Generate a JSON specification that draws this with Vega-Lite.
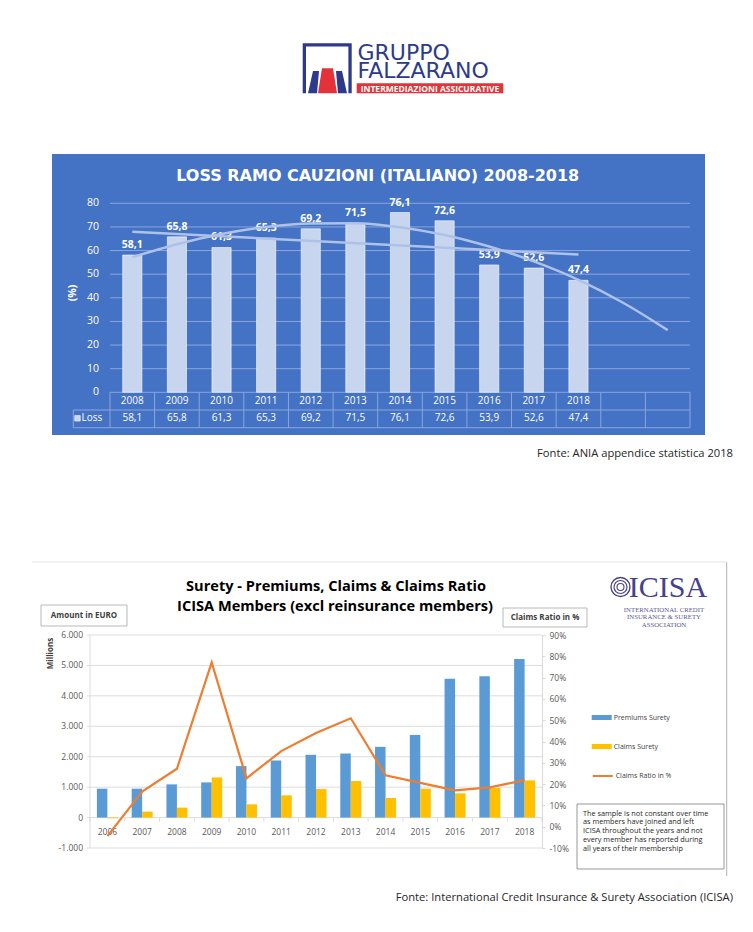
{
  "$schema": "https://vega.github.io/schema/vega-lite/v6.json",
  "background": "white",
  "padding": {"left": 31, "top": 0, "right": 0, "bottom": 0},
  "bounds": "flush",
  "spacing": 0,
  "config": {
    "view": {"stroke": null},
    "font": "Open Sans",
    "locale": {"number": {"decimal": ",", "thousands": ".", "grouping": [3], "currency": ["€", ""], "minus": "-"}}
  },
  "datasets": {
    "loss": [
      {"year": "2008", "loss": 58.1}, {"year": "2009", "loss": 65.8}, {"year": "2010", "loss": 61.3},
      {"year": "2011", "loss": 65.3}, {"year": "2012", "loss": 69.2}, {"year": "2013", "loss": 71.5},
      {"year": "2014", "loss": 76.1}, {"year": "2015", "loss": 72.6}, {"year": "2016", "loss": 53.9},
      {"year": "2017", "loss": 52.6}, {"year": "2018", "loss": 47.4}, {"year": "2019", "loss": null},
      {"year": "2020", "loss": null}
    ],
    "lossLinear": [{"year": "2008", "trend": 68.0}, {"year": "2018", "trend": 58.3}],
    "lossPoly": [
      {"year": "2008", "trend": 57.2}, {"year": "2009", "trend": 62.7}, {"year": "2010", "trend": 67.0},
      {"year": "2011", "trend": 70.0}, {"year": "2012", "trend": 71.5}, {"year": "2013", "trend": 71.6},
      {"year": "2014", "trend": 69.9}, {"year": "2015", "trend": 66.6}, {"year": "2016", "trend": 61.7},
      {"year": "2017", "trend": 55.4}, {"year": "2018", "trend": 47.6}, {"year": "2019", "trend": 37.9},
      {"year": "2020", "trend": 26.3}
    ],
    "lossGrid": [{"level": 0}, {"level": 10}, {"level": 20}, {"level": 30}, {"level": 40}, {"level": 50}, {"level": 60}, {"level": 70}, {"level": 80}],
    "suretyGrid": [{"level": -1000}, {"level": 0}, {"level": 1000}, {"level": 2000}, {"level": 3000}, {"level": 4000}, {"level": 5000}, {"level": 6000}],
    "suretyBars": [
      {"year": "2006", "series": "Premiums Surety", "amount": 949}, {"year": "2006", "series": "Claims Surety", "amount": -25},
      {"year": "2007", "series": "Premiums Surety", "amount": 949}, {"year": "2007", "series": "Claims Surety", "amount": 196},
      {"year": "2008", "series": "Premiums Surety", "amount": 1091}, {"year": "2008", "series": "Claims Surety", "amount": 327},
      {"year": "2009", "series": "Premiums Surety", "amount": 1156}, {"year": "2009", "series": "Claims Surety", "amount": 1320},
      {"year": "2010", "series": "Premiums Surety", "amount": 1691}, {"year": "2010", "series": "Claims Surety", "amount": 436},
      {"year": "2011", "series": "Premiums Surety", "amount": 1876}, {"year": "2011", "series": "Claims Surety", "amount": 731},
      {"year": "2012", "series": "Premiums Surety", "amount": 2062}, {"year": "2012", "series": "Claims Surety", "amount": 938},
      {"year": "2013", "series": "Premiums Surety", "amount": 2105}, {"year": "2013", "series": "Claims Surety", "amount": 1200},
      {"year": "2014", "series": "Premiums Surety", "amount": 2324}, {"year": "2014", "series": "Claims Surety", "amount": 644},
      {"year": "2015", "series": "Premiums Surety", "amount": 2716}, {"year": "2015", "series": "Claims Surety", "amount": 949},
      {"year": "2016", "series": "Premiums Surety", "amount": 4560}, {"year": "2016", "series": "Claims Surety", "amount": 796},
      {"year": "2017", "series": "Premiums Surety", "amount": 4647}, {"year": "2017", "series": "Claims Surety", "amount": 971},
      {"year": "2018", "series": "Premiums Surety", "amount": 5215}, {"year": "2018", "series": "Claims Surety", "amount": 1222}
    ],
    "suretyRatio": [
      {"year": "2006", "series": "Claims Ratio in %", "ratio": -0.044}, {"year": "2007", "series": "Claims Ratio in %", "ratio": 0.165},
      {"year": "2008", "series": "Claims Ratio in %", "ratio": 0.272}, {"year": "2009", "series": "Claims Ratio in %", "ratio": 0.771},
      {"year": "2010", "series": "Claims Ratio in %", "ratio": 0.227}, {"year": "2011", "series": "Claims Ratio in %", "ratio": 0.355},
      {"year": "2012", "series": "Claims Ratio in %", "ratio": 0.44}, {"year": "2013", "series": "Claims Ratio in %", "ratio": 0.509},
      {"year": "2014", "series": "Claims Ratio in %", "ratio": 0.241}, {"year": "2015", "series": "Claims Ratio in %", "ratio": 0.206},
      {"year": "2016", "series": "Claims Ratio in %", "ratio": 0.171}, {"year": "2017", "series": "Claims Ratio in %", "ratio": 0.185},
      {"year": "2018", "series": "Claims Ratio in %", "ratio": 0.219}
    ]
  },
  "vconcat": [
    {
      "width": 653,
      "height": 154,
      "data": {"values": [{"brand": "Gruppo Falzarano"}]},
      "layer": [
        {
          "mark": {"type": "point", "shape": "M-1,1.06L-1,-1.06L1,-1.06L1,1.06", "filled": false, "stroke": "#2d3a8c", "strokeWidth": 3.3, "strokeJoin": "miter", "opacity": 1, "size": 2088},
          "encoding": {
            "x": {"datum": 327.2, "type": "quantitative", "scale": {"domain": [52, 705], "nice": false, "zero": false}, "axis": null},
            "y": {"datum": 69.1, "type": "quantitative", "scale": {"domain": [0, 154], "nice": false, "zero": false, "reverse": true}, "axis": null}
          }
        },
        {
          "mark": {"type": "point", "shape": "M-1.16,-0.78L-0.68,-0.78L-0.84,1L-1.56,1Z M0.68,-0.78L1.16,-0.78L1.56,1L0.84,1Z", "filled": true, "fill": "#2d3a8c", "strokeWidth": 0, "opacity": 1, "size": 625},
          "encoding": {
            "x": {"datum": 327.5, "type": "quantitative", "scale": {"domain": [52, 705], "nice": false, "zero": false}, "axis": null},
            "y": {"datum": 80.8, "type": "quantitative", "scale": {"domain": [0, 154], "nice": false, "zero": false, "reverse": true}, "axis": null}
          }
        },
        {
          "mark": {"type": "point", "shape": "M-0.44,-1L0.44,-1L0.76,1L-0.76,1Z", "filled": true, "fill": "#e4323b", "strokeWidth": 0, "opacity": 1, "size": 625},
          "encoding": {
            "x": {"datum": 327.5, "type": "quantitative", "scale": {"domain": [52, 705], "nice": false, "zero": false}, "axis": null},
            "y": {"datum": 80.8, "type": "quantitative", "scale": {"domain": [0, 154], "nice": false, "zero": false, "reverse": true}, "axis": null}
          }
        },
        {
          "mark": {"type": "text", "text": ["GRUPPO", "FALZARANO"], "lineHeight": 18.3, "align": "left", "baseline": "alphabetic", "font": "DejaVu Sans", "fontSize": 22, "fill": "#2d3a8c"},
          "encoding": {
            "x": {"datum": 357.5, "type": "quantitative", "scale": {"domain": [52, 705], "nice": false, "zero": false}, "axis": null},
            "y": {"datum": 60, "type": "quantitative", "scale": {"domain": [0, 154], "nice": false, "zero": false, "reverse": true}, "axis": null}
          }
        },
        {
          "mark": {"type": "rect", "fill": "#e4323b"},
          "encoding": {
            "x": {"datum": 356.7, "type": "quantitative", "scale": {"domain": [52, 705], "nice": false, "zero": false}, "axis": null},
            "x2": {"datum": 503.3},
            "y": {"datum": 83.3, "type": "quantitative", "scale": {"domain": [0, 154], "nice": false, "zero": false, "reverse": true}, "axis": null},
            "y2": {"datum": 93.3}
          }
        },
        {
          "mark": {"type": "text", "text": "INTERMEDIAZIONI ASSICURATIVE", "align": "center", "baseline": "middle", "font": "Open Sans", "fontWeight": "bold", "fontSize": 8.5, "fill": "#ffffff"},
          "encoding": {
            "x": {"datum": 430, "type": "quantitative", "scale": {"domain": [52, 705], "nice": false, "zero": false}, "axis": null},
            "y": {"datum": 88.5, "type": "quantitative", "scale": {"domain": [0, 154], "nice": false, "zero": false, "reverse": true}, "axis": null}
          }
        }
      ]
    },
    {
      "width": 653,
      "height": 281,
      "view": {"fill": "#4472c4", "stroke": null},
      "title": {"text": "Fonte: ANIA appendice statistica 2018", "orient": "bottom", "anchor": "end", "frame": "group", "dx": 28, "offset": 13, "font": "Open Sans", "fontSize": 11.2, "fontWeight": "normal", "color": "#262626"},
      "layer": [
        {
          "data": {"name": "lossGrid"},
          "mark": {"type": "rule", "color": "#8aa6de", "strokeWidth": 1},
          "encoding": {
            "x": {"datum": "2008", "type": "ordinal", "bandPosition": 0, "scale": {"domain": ["2008","2009","2010","2011","2012","2013","2014","2015","2016","2017","2018","2019","2020"], "paddingInner": 0, "paddingOuter": 0.818, "align": 0.7945, "round": false}, "axis": null},
            "x2": {"datum": "2020", "bandPosition": 1},
            "y": {"field": "level", "type": "quantitative", "scale": {"domain": [-18.07, 100.87], "nice": false, "zero": false}, "axis": null}
          }
        },
        {
          "data": {"name": "lossGrid"},
          "mark": {"type": "text", "align": "right", "baseline": "middle", "font": "Open Sans", "fontSize": 10.5, "color": "#ffffff", "xOffset": -11},
          "encoding": {
            "x": {"datum": "2008", "type": "ordinal", "bandPosition": 0, "scale": {"domain": ["2008","2009","2010","2011","2012","2013","2014","2015","2016","2017","2018","2019","2020"], "paddingInner": 0, "paddingOuter": 0.818, "align": 0.7945, "round": false}, "axis": null},
            "y": {"field": "level", "type": "quantitative", "scale": {"domain": [-18.07, 100.87], "nice": false, "zero": false}, "axis": null},
            "text": {"field": "level", "type": "quantitative"}
          }
        },
        {
          "data": {"values": [{"unit": "(%)"}]},
          "mark": {"type": "text", "align": "center", "baseline": "middle", "angle": 270, "font": "Open Sans", "fontWeight": "bold", "fontSize": 10.5, "color": "#ffffff", "xOffset": -37},
          "encoding": {
            "x": {"datum": "2008", "type": "ordinal", "bandPosition": 0, "scale": {"domain": ["2008","2009","2010","2011","2012","2013","2014","2015","2016","2017","2018","2019","2020"], "paddingInner": 0, "paddingOuter": 0.818, "align": 0.7945, "round": false}, "axis": null},
            "y": {"datum": 42, "type": "quantitative", "scale": {"domain": [-18.07, 100.87], "nice": false, "zero": false}, "axis": null},
            "text": {"field": "unit", "type": "nominal"}
          }
        },
        {
          "data": {"name": "loss"},
          "mark": {"type": "rule", "color": "#8aa6de", "strokeWidth": 1},
          "encoding": {
            "x": {"field": "year", "type": "ordinal", "bandPosition": 0, "scale": {"domain": ["2008","2009","2010","2011","2012","2013","2014","2015","2016","2017","2018","2019","2020"], "paddingInner": 0, "paddingOuter": 0.818, "align": 0.7945, "round": false}, "axis": null},
            "y": {"datum": 0, "type": "quantitative", "scale": {"domain": [-18.07, 100.87], "nice": false, "zero": false}, "axis": null},
            "y2": {"datum": -15.0}
          }
        },
        {
          "data": {"name": "loss"},
          "transform": [{"filter": "datum.year == '2020'"}],
          "mark": {"type": "rule", "color": "#8aa6de", "strokeWidth": 1},
          "encoding": {
            "x": {"field": "year", "type": "ordinal", "bandPosition": 1, "scale": {"domain": ["2008","2009","2010","2011","2012","2013","2014","2015","2016","2017","2018","2019","2020"], "paddingInner": 0, "paddingOuter": 0.818, "align": 0.7945, "round": false}, "axis": null},
            "y": {"datum": 0, "type": "quantitative", "scale": {"domain": [-18.07, 100.87], "nice": false, "zero": false}, "axis": null},
            "y2": {"datum": -15.0}
          }
        },
        {
          "data": {"values": [{"border": "table middle"}]},
          "mark": {"type": "rule", "color": "#8aa6de", "strokeWidth": 1, "xOffset": -36.7},
          "encoding": {
            "x": {"datum": "2008", "type": "ordinal", "bandPosition": 0, "scale": {"domain": ["2008","2009","2010","2011","2012","2013","2014","2015","2016","2017","2018","2019","2020"], "paddingInner": 0, "paddingOuter": 0.818, "align": 0.7945, "round": false}, "axis": null},
            "x2": {"datum": "2020", "bandPosition": 1},
            "y": {"datum": -7.49, "type": "quantitative", "scale": {"domain": [-18.07, 100.87], "nice": false, "zero": false}, "axis": null}
          }
        },
        {
          "data": {"values": [{"border": "table bottom"}]},
          "mark": {"type": "rule", "color": "#8aa6de", "strokeWidth": 1, "xOffset": -36.7},
          "encoding": {
            "x": {"datum": "2008", "type": "ordinal", "bandPosition": 0, "scale": {"domain": ["2008","2009","2010","2011","2012","2013","2014","2015","2016","2017","2018","2019","2020"], "paddingInner": 0, "paddingOuter": 0.818, "align": 0.7945, "round": false}, "axis": null},
            "x2": {"datum": "2020", "bandPosition": 1},
            "y": {"datum": -15.0, "type": "quantitative", "scale": {"domain": [-18.07, 100.87], "nice": false, "zero": false}, "axis": null}
          }
        },
        {
          "data": {"values": [{"border": "legend cell"}]},
          "mark": {"type": "rule", "color": "#8aa6de", "strokeWidth": 1, "xOffset": -36.7},
          "encoding": {
            "x": {"datum": "2008", "type": "ordinal", "bandPosition": 0, "scale": {"domain": ["2008","2009","2010","2011","2012","2013","2014","2015","2016","2017","2018","2019","2020"], "paddingInner": 0, "paddingOuter": 0.818, "align": 0.7945, "round": false}, "axis": null},
            "y": {"datum": -7.49, "type": "quantitative", "scale": {"domain": [-18.07, 100.87], "nice": false, "zero": false}, "axis": null},
            "y2": {"datum": -15.0}
          }
        },
        {
          "data": {"name": "loss"},
          "transform": [{"filter": "datum.loss != null"}],
          "mark": {"type": "bar", "width": {"band": 0.43}, "fill": "#c8d5ee", "stroke": "#ffffff", "strokeWidth": 0.6},
          "encoding": {
            "x": {"field": "year", "type": "ordinal", "scale": {"domain": ["2008","2009","2010","2011","2012","2013","2014","2015","2016","2017","2018","2019","2020"], "paddingInner": 0, "paddingOuter": 0.818, "align": 0.7945, "round": false}, "axis": null},
            "y": {"field": "loss", "type": "quantitative", "scale": {"domain": [-18.07, 100.87], "nice": false, "zero": false}, "axis": null}
          }
        },
        {
          "data": {"name": "loss"},
          "transform": [{"filter": "datum.loss != null"}],
          "mark": {"type": "text", "baseline": "bottom", "dy": -5, "font": "Open Sans", "fontWeight": "bold", "fontSize": 10.5, "color": "#ffffff"},
          "encoding": {
            "x": {"field": "year", "type": "ordinal", "scale": {"domain": ["2008","2009","2010","2011","2012","2013","2014","2015","2016","2017","2018","2019","2020"], "paddingInner": 0, "paddingOuter": 0.818, "align": 0.7945, "round": false}, "axis": null},
            "y": {"field": "loss", "type": "quantitative", "scale": {"domain": [-18.07, 100.87], "nice": false, "zero": false}, "axis": null},
            "text": {"field": "loss", "type": "quantitative", "format": ".1f"}
          }
        },
        {
          "data": {"name": "lossLinear"},
          "mark": {"type": "line", "color": "#aec2e8", "strokeWidth": 2.5},
          "encoding": {
            "x": {"field": "year", "type": "ordinal", "scale": {"domain": ["2008","2009","2010","2011","2012","2013","2014","2015","2016","2017","2018","2019","2020"], "paddingInner": 0, "paddingOuter": 0.818, "align": 0.7945, "round": false}, "axis": null},
            "y": {"field": "trend", "type": "quantitative", "scale": {"domain": [-18.07, 100.87], "nice": false, "zero": false}, "axis": null}
          }
        },
        {
          "data": {"name": "lossPoly"},
          "mark": {"type": "line", "color": "#aec2e8", "strokeWidth": 2.5, "interpolate": "monotone"},
          "encoding": {
            "x": {"field": "year", "type": "ordinal", "scale": {"domain": ["2008","2009","2010","2011","2012","2013","2014","2015","2016","2017","2018","2019","2020"], "paddingInner": 0, "paddingOuter": 0.818, "align": 0.7945, "round": false}, "axis": null},
            "y": {"field": "trend", "type": "quantitative", "scale": {"domain": [-18.07, 100.87], "nice": false, "zero": false}, "axis": null}
          }
        },
        {
          "data": {"name": "loss"},
          "transform": [{"filter": "datum.loss != null"}],
          "mark": {"type": "text", "baseline": "middle", "font": "Open Sans", "fontSize": 10, "color": "#ffffff"},
          "encoding": {
            "x": {"field": "year", "type": "ordinal", "scale": {"domain": ["2008","2009","2010","2011","2012","2013","2014","2015","2016","2017","2018","2019","2020"], "paddingInner": 0, "paddingOuter": 0.818, "align": 0.7945, "round": false}, "axis": null},
            "y": {"datum": -3.6, "type": "quantitative", "scale": {"domain": [-18.07, 100.87], "nice": false, "zero": false}, "axis": null},
            "text": {"field": "year", "type": "nominal"}
          }
        },
        {
          "data": {"name": "loss"},
          "transform": [{"filter": "datum.loss != null"}],
          "mark": {"type": "text", "baseline": "middle", "font": "Open Sans", "fontSize": 10, "color": "#ffffff"},
          "encoding": {
            "x": {"field": "year", "type": "ordinal", "scale": {"domain": ["2008","2009","2010","2011","2012","2013","2014","2015","2016","2017","2018","2019","2020"], "paddingInner": 0, "paddingOuter": 0.818, "align": 0.7945, "round": false}, "axis": null},
            "y": {"datum": -11.0, "type": "quantitative", "scale": {"domain": [-18.07, 100.87], "nice": false, "zero": false}, "axis": null},
            "text": {"field": "loss", "type": "quantitative", "format": ".1f"}
          }
        },
        {
          "data": {"values": [{"series": "Loss"}]},
          "mark": {"type": "point", "shape": "square", "filled": true, "fill": "#c8d5ee", "stroke": "#ffffff", "strokeWidth": 0.6, "opacity": 1, "size": 30, "xOffset": -32.5},
          "encoding": {
            "x": {"datum": "2008", "type": "ordinal", "bandPosition": 0, "scale": {"domain": ["2008","2009","2010","2011","2012","2013","2014","2015","2016","2017","2018","2019","2020"], "paddingInner": 0, "paddingOuter": 0.818, "align": 0.7945, "round": false}, "axis": null},
            "y": {"datum": -11.0, "type": "quantitative", "scale": {"domain": [-18.07, 100.87], "nice": false, "zero": false}, "axis": null}
          }
        },
        {
          "data": {"values": [{"series": "Loss"}]},
          "mark": {"type": "text", "align": "left", "baseline": "middle", "font": "Open Sans", "fontSize": 10, "color": "#ffffff", "xOffset": -28.5},
          "encoding": {
            "x": {"datum": "2008", "type": "ordinal", "bandPosition": 0, "scale": {"domain": ["2008","2009","2010","2011","2012","2013","2014","2015","2016","2017","2018","2019","2020"], "paddingInner": 0, "paddingOuter": 0.818, "align": 0.7945, "round": false}, "axis": null},
            "y": {"datum": -11.0, "type": "quantitative", "scale": {"domain": [-18.07, 100.87], "nice": false, "zero": false}, "axis": null},
            "text": {"field": "series", "type": "nominal"}
          }
        },
        {
          "data": {"values": [{"title": "LOSS RAMO CAUZIONI (ITALIANO) 2008-2018"}]},
          "mark": {"type": "text", "align": "center", "baseline": "middle", "font": "DejaVu Sans", "fontWeight": "bold", "fontSize": 16, "color": "#ffffff"},
          "encoding": {
            "x": {"datum": "2014", "type": "ordinal", "bandPosition": 0, "scale": {"domain": ["2008","2009","2010","2011","2012","2013","2014","2015","2016","2017","2018","2019","2020"], "paddingInner": 0, "paddingOuter": 0.818, "align": 0.7945, "round": false}, "axis": null},
            "y": {"datum": 91.4, "type": "quantitative", "scale": {"domain": [-18.07, 100.87], "nice": false, "zero": false}, "axis": null},
            "text": {"field": "title", "type": "nominal"}
          }
        }
      ]
    },
    {
      "width": 653,
      "height": 200,
      "data": {"values": []},
      "mark": "point"
    },
    {
      "bounds": "flush",
      "spacing": 0,
      "hconcat": [
        {
          "width": 38,
          "height": 213,
          "data": {"values": []},
          "mark": "point"
        },
        {
          "width": 452,
          "height": 213,
          "resolve": {"scale": {"y": "independent"}},
          "layer": [
            {
              "layer": [
                {
                  "data": {"name": "suretyGrid"},
                  "mark": {"type": "rule", "color": "#d9d9d9", "strokeWidth": 0.9},
                  "encoding": {
                    "x": {"datum": "2006", "type": "ordinal", "bandPosition": 0, "scale": {"domain": ["2006","2007","2008","2009","2010","2011","2012","2013","2014","2015","2016","2017","2018"], "paddingInner": 0, "paddingOuter": 0, "round": false}, "axis": null},
                    "x2": {"datum": "2018", "bandPosition": 1},
                    "y": {"field": "level", "type": "quantitative", "scale": {"domain": [-1000, 6000], "nice": false, "zero": false}, "axis": null}
                  }
                },
                {
                  "data": {"name": "suretyGrid"},
                  "mark": {"type": "rule", "color": "#d9d9d9", "strokeWidth": 0.9, "xOffset": -3},
                  "encoding": {
                    "x": {"datum": "2006", "type": "ordinal", "bandPosition": 0, "scale": {"domain": ["2006","2007","2008","2009","2010","2011","2012","2013","2014","2015","2016","2017","2018"], "paddingInner": 0, "paddingOuter": 0, "round": false}, "axis": null},
                    "x2": {"datum": "2006", "bandPosition": 0},
                    "y": {"field": "level", "type": "quantitative", "scale": {"domain": [-1000, 6000], "nice": false, "zero": false}, "axis": null}
                  }
                },
                {
                  "data": {"values": [{"axis": "amount"}]},
                  "mark": {"type": "rule", "color": "#d9d9d9", "strokeWidth": 0.9},
                  "encoding": {
                    "x": {"datum": "2006", "type": "ordinal", "bandPosition": 0, "scale": {"domain": ["2006","2007","2008","2009","2010","2011","2012","2013","2014","2015","2016","2017","2018"], "paddingInner": 0, "paddingOuter": 0, "round": false}, "axis": null},
                    "y": {"datum": -1000, "type": "quantitative", "scale": {"domain": [-1000, 6000], "nice": false, "zero": false}, "axis": null},
                    "y2": {"datum": 6000}
                  }
                },
                {
                  "data": {"name": "suretyGrid"},
                  "mark": {"type": "text", "align": "right", "baseline": "middle", "font": "Open Sans", "fontSize": 8.5, "color": "#595959", "xOffset": -7},
                  "encoding": {
                    "x": {"datum": "2006", "type": "ordinal", "bandPosition": 0, "scale": {"domain": ["2006","2007","2008","2009","2010","2011","2012","2013","2014","2015","2016","2017","2018"], "paddingInner": 0, "paddingOuter": 0, "round": false}, "axis": null},
                    "y": {"field": "level", "type": "quantitative", "scale": {"domain": [-1000, 6000], "nice": false, "zero": false}, "axis": null},
                    "text": {"field": "level", "type": "quantitative", "format": ",.0f"}
                  }
                },
                {
                  "data": {"values": [{"unit": "Millions"}]},
                  "mark": {"type": "text", "align": "center", "baseline": "middle", "angle": 270, "font": "Open Sans", "fontWeight": "bold", "fontSize": 8, "color": "#404040", "xOffset": -39, "yOffset": 18.5},
                  "encoding": {
                    "x": {"datum": "2006", "type": "ordinal", "bandPosition": 0, "scale": {"domain": ["2006","2007","2008","2009","2010","2011","2012","2013","2014","2015","2016","2017","2018"], "paddingInner": 0, "paddingOuter": 0, "round": false}, "axis": null},
                    "y": {"datum": 6000, "type": "quantitative", "scale": {"domain": [-1000, 6000], "nice": false, "zero": false}, "axis": null},
                    "text": {"field": "unit", "type": "nominal"}
                  }
                },
                {
                  "data": {"name": "suretyBars"},
                  "mark": {"type": "bar"},
                  "encoding": {
                    "x": {"field": "year", "type": "ordinal", "scale": {"domain": ["2006","2007","2008","2009","2010","2011","2012","2013","2014","2015","2016","2017","2018"], "paddingInner": 0, "paddingOuter": 0, "round": false}, "axis": null},
                    "xOffset": {"field": "series", "type": "nominal", "scale": {"domain": ["Premiums Surety", "Claims Surety"], "paddingOuter": 0.656, "paddingInner": 0}},
                    "y": {"field": "amount", "type": "quantitative", "scale": {"domain": [-1000, 6000], "nice": false, "zero": false}, "axis": null},
                    "color": {"field": "series", "type": "nominal", "scale": {"domain": ["Premiums Surety", "Claims Surety"], "range": ["#5b9bd5", "#ffc000"]},
                      "legend": {"orient": "none", "legendX": 539.7, "legendY": 707.5, "title": null, "padding": 0, "direction": "vertical", "symbolType": "M-1,-0.25L1,-0.25L1,0.25L-1,0.25Z", "symbolSize": 400, "symbolStrokeWidth": 0, "labelFont": "Open Sans", "labelFontSize": 7, "labelColor": "#404040", "labelOffset": 2, "rowPadding": 16}}
                  }
                },
                {
                  "data": {"name": "suretyRatio"},
                  "mark": {"type": "rule", "color": "#d9d9d9", "strokeWidth": 0.9, "y2Offset": 4},
                  "encoding": {
                    "x": {"field": "year", "type": "ordinal", "bandPosition": 0, "scale": {"domain": ["2006","2007","2008","2009","2010","2011","2012","2013","2014","2015","2016","2017","2018"], "paddingInner": 0, "paddingOuter": 0, "round": false}, "axis": null},
                    "y": {"datum": 0, "type": "quantitative", "scale": {"domain": [-1000, 6000], "nice": false, "zero": false}, "axis": null},
                    "y2": {"datum": 0}
                  }
                },
                {
                  "data": {"name": "suretyRatio"},
                  "transform": [{"filter": "datum.year == '2018'"}],
                  "mark": {"type": "rule", "color": "#d9d9d9", "strokeWidth": 0.9, "y2Offset": 4},
                  "encoding": {
                    "x": {"field": "year", "type": "ordinal", "bandPosition": 1, "scale": {"domain": ["2006","2007","2008","2009","2010","2011","2012","2013","2014","2015","2016","2017","2018"], "paddingInner": 0, "paddingOuter": 0, "round": false}, "axis": null},
                    "y": {"datum": 0, "type": "quantitative", "scale": {"domain": [-1000, 6000], "nice": false, "zero": false}, "axis": null},
                    "y2": {"datum": 0}
                  }
                },
                {
                  "data": {"name": "suretyRatio"},
                  "mark": {"type": "text", "align": "center", "baseline": "middle", "font": "Open Sans", "fontSize": 8.5, "color": "#595959", "yOffset": 14},
                  "encoding": {
                    "x": {"field": "year", "type": "ordinal", "scale": {"domain": ["2006","2007","2008","2009","2010","2011","2012","2013","2014","2015","2016","2017","2018"], "paddingInner": 0, "paddingOuter": 0, "round": false}, "axis": null},
                    "y": {"datum": 0, "type": "quantitative", "scale": {"domain": [-1000, 6000], "nice": false, "zero": false}, "axis": null},
                    "text": {"field": "year", "type": "nominal"}
                  }
                },
                {
                  "data": {"values": [{"label": "Amount in EURO"}]},
                  "mark": {"type": "point", "shape": "M-1,-0.244L1,-0.244L1,0.244L-1,0.244Z", "filled": true, "fill": "#ffffff", "stroke": "#a6a6a6", "strokeWidth": 0.8, "opacity": 1, "size": 7396, "xOffset": -6, "yOffset": -19.5},
                  "encoding": {
                    "x": {"datum": "2006", "type": "ordinal", "bandPosition": 0, "scale": {"domain": ["2006","2007","2008","2009","2010","2011","2012","2013","2014","2015","2016","2017","2018"], "paddingInner": 0, "paddingOuter": 0, "round": false}, "axis": null},
                    "y": {"datum": 6000, "type": "quantitative", "scale": {"domain": [-1000, 6000], "nice": false, "zero": false}, "axis": null}
                  }
                },
                {
                  "data": {"values": [{"label": "Amount in EURO"}]},
                  "mark": {"type": "text", "align": "center", "baseline": "middle", "font": "Open Sans", "fontWeight": "bold", "fontSize": 8, "color": "#404040", "xOffset": -6, "yOffset": -19.5},
                  "encoding": {
                    "x": {"datum": "2006", "type": "ordinal", "bandPosition": 0, "scale": {"domain": ["2006","2007","2008","2009","2010","2011","2012","2013","2014","2015","2016","2017","2018"], "paddingInner": 0, "paddingOuter": 0, "round": false}, "axis": null},
                    "y": {"datum": 6000, "type": "quantitative", "scale": {"domain": [-1000, 6000], "nice": false, "zero": false}, "axis": null},
                    "text": {"field": "label", "type": "nominal"}
                  }
                },
                {
                  "data": {"values": [{"label": "Claims Ratio in %"}]},
                  "mark": {"type": "point", "shape": "M-1,-0.226L1,-0.226L1,0.226L-1,0.226Z", "filled": true, "fill": "#ffffff", "stroke": "#a6a6a6", "strokeWidth": 0.8, "opacity": 1, "size": 7056, "xOffset": 3, "yOffset": -17.5},
                  "encoding": {
                    "x": {"datum": "2018", "type": "ordinal", "bandPosition": 1, "scale": {"domain": ["2006","2007","2008","2009","2010","2011","2012","2013","2014","2015","2016","2017","2018"], "paddingInner": 0, "paddingOuter": 0, "round": false}, "axis": null},
                    "y": {"datum": 6000, "type": "quantitative", "scale": {"domain": [-1000, 6000], "nice": false, "zero": false}, "axis": null}
                  }
                },
                {
                  "data": {"values": [{"label": "Claims Ratio in %"}]},
                  "mark": {"type": "text", "align": "center", "baseline": "middle", "font": "Open Sans", "fontWeight": "bold", "fontSize": 8, "color": "#404040", "xOffset": 3, "yOffset": -17.5},
                  "encoding": {
                    "x": {"datum": "2018", "type": "ordinal", "bandPosition": 1, "scale": {"domain": ["2006","2007","2008","2009","2010","2011","2012","2013","2014","2015","2016","2017","2018"], "paddingInner": 0, "paddingOuter": 0, "round": false}, "axis": null},
                    "y": {"datum": 6000, "type": "quantitative", "scale": {"domain": [-1000, 6000], "nice": false, "zero": false}, "axis": null},
                    "text": {"field": "label", "type": "nominal"}
                  }
                },
                {
                  "data": {"values": [{"note": "sample note"}]},
                  "mark": {"type": "point", "shape": "M-1,-0.442L1,-0.442L1,0.442L-1,0.442Z", "filled": true, "fill": "#ffffff", "stroke": "#7f7f7f", "strokeWidth": 0.8, "opacity": 1, "size": 21609, "xOffset": 108.5, "yOffset": -11.5},
                  "encoding": {
                    "x": {"datum": "2018", "type": "ordinal", "bandPosition": 1, "scale": {"domain": ["2006","2007","2008","2009","2010","2011","2012","2013","2014","2015","2016","2017","2018"], "paddingInner": 0, "paddingOuter": 0, "round": false}, "axis": null},
                    "y": {"datum": -1000, "type": "quantitative", "scale": {"domain": [-1000, 6000], "nice": false, "zero": false}, "axis": null}
                  }
                },
                {
                  "data": {"values": [{"note": "sample note"}]},
                  "mark": {"type": "text", "align": "left", "baseline": "top", "font": "Open Sans", "fontSize": 7.3, "lineHeight": 8.75, "color": "#262626", "xOffset": 41, "yOffset": -38.5,
                    "text": ["The sample is not constant over time", "as members have joined and left", "ICISA throughout the years and not", "every member has reported during", "all years of  their membership"]},
                  "encoding": {
                    "x": {"datum": "2018", "type": "ordinal", "bandPosition": 1, "scale": {"domain": ["2006","2007","2008","2009","2010","2011","2012","2013","2014","2015","2016","2017","2018"], "paddingInner": 0, "paddingOuter": 0, "round": false}, "axis": null},
                    "y": {"datum": -1000, "type": "quantitative", "scale": {"domain": [-1000, 6000], "nice": false, "zero": false}, "axis": null}
                  }
                },
                {
                  "data": {"values": [{"logo": "ICISA"}]},
                  "mark": {"type": "point", "shape": "circle", "filled": false, "stroke": "#46418f", "strokeWidth": 1.3, "opacity": 1, "size": 361, "xOffset": 78.5, "yOffset": -48},
                  "encoding": {
                    "x": {"datum": "2018", "type": "ordinal", "bandPosition": 1, "scale": {"domain": ["2006","2007","2008","2009","2010","2011","2012","2013","2014","2015","2016","2017","2018"], "paddingInner": 0, "paddingOuter": 0, "round": false}, "axis": null},
                    "y": {"datum": 6000, "type": "quantitative", "scale": {"domain": [-1000, 6000], "nice": false, "zero": false}, "axis": null}
                  }
                },
                {
                  "data": {"values": [{"logo": "ICISA"}]},
                  "mark": {"type": "point", "shape": "circle", "filled": false, "stroke": "#46418f", "strokeWidth": 1.2, "opacity": 1, "size": 169, "xOffset": 78.5, "yOffset": -48},
                  "encoding": {
                    "x": {"datum": "2018", "type": "ordinal", "bandPosition": 1, "scale": {"domain": ["2006","2007","2008","2009","2010","2011","2012","2013","2014","2015","2016","2017","2018"], "paddingInner": 0, "paddingOuter": 0, "round": false}, "axis": null},
                    "y": {"datum": 6000, "type": "quantitative", "scale": {"domain": [-1000, 6000], "nice": false, "zero": false}, "axis": null}
                  }
                },
                {
                  "data": {"values": [{"logo": "ICISA"}]},
                  "mark": {"type": "point", "shape": "circle", "filled": false, "stroke": "#46418f", "strokeWidth": 1.1, "opacity": 1, "size": 49, "xOffset": 78.5, "yOffset": -48},
                  "encoding": {
                    "x": {"datum": "2018", "type": "ordinal", "bandPosition": 1, "scale": {"domain": ["2006","2007","2008","2009","2010","2011","2012","2013","2014","2015","2016","2017","2018"], "paddingInner": 0, "paddingOuter": 0, "round": false}, "axis": null},
                    "y": {"datum": 6000, "type": "quantitative", "scale": {"domain": [-1000, 6000], "nice": false, "zero": false}, "axis": null}
                  }
                },
                {
                  "data": {"values": [{"logo": "ICISA"}]},
                  "mark": {"type": "text", "align": "center", "baseline": "alphabetic", "font": "Liberation Serif", "fontSize": 30, "color": "#46418f", "xOffset": 126, "yOffset": -38},
                  "encoding": {
                    "x": {"datum": "2018", "type": "ordinal", "bandPosition": 1, "scale": {"domain": ["2006","2007","2008","2009","2010","2011","2012","2013","2014","2015","2016","2017","2018"], "paddingInner": 0, "paddingOuter": 0, "round": false}, "axis": null},
                    "y": {"datum": 6000, "type": "quantitative", "scale": {"domain": [-1000, 6000], "nice": false, "zero": false}, "axis": null},
                    "text": {"field": "logo", "type": "nominal"}
                  }
                },
                {
                  "data": {"values": [{"logo": "ICISA"}]},
                  "mark": {"type": "text", "align": "center", "baseline": "top", "font": "Liberation Serif", "fontSize": 6.8, "lineHeight": 7.3, "color": "#5a5896", "xOffset": 122, "yOffset": -28,
                    "text": ["INTERNATIONAL CREDIT", "INSURANCE & SURETY", "ASSOCIATION"]},
                  "encoding": {
                    "x": {"datum": "2018", "type": "ordinal", "bandPosition": 1, "scale": {"domain": ["2006","2007","2008","2009","2010","2011","2012","2013","2014","2015","2016","2017","2018"], "paddingInner": 0, "paddingOuter": 0, "round": false}, "axis": null},
                    "y": {"datum": 6000, "type": "quantitative", "scale": {"domain": [-1000, 6000], "nice": false, "zero": false}, "axis": null}
                  }
                },
                {
                  "data": {"values": [{"title": "Surety - Premiums, Claims & Claims Ratio"}]},
                  "mark": {"type": "text", "align": "center", "baseline": "middle", "font": "Open Sans", "fontWeight": "bold", "fontSize": 14.6, "color": "#000000", "xOffset": -206, "yOffset": -48.3},
                  "encoding": {
                    "x": {"datum": "2018", "type": "ordinal", "bandPosition": 1, "scale": {"domain": ["2006","2007","2008","2009","2010","2011","2012","2013","2014","2015","2016","2017","2018"], "paddingInner": 0, "paddingOuter": 0, "round": false}, "axis": null},
                    "y": {"datum": 6000, "type": "quantitative", "scale": {"domain": [-1000, 6000], "nice": false, "zero": false}, "axis": null},
                    "text": {"field": "title", "type": "nominal"}
                  }
                },
                {
                  "data": {"values": [{"title": "ICISA Members (excl reinsurance members)"}]},
                  "mark": {"type": "text", "align": "center", "baseline": "middle", "font": "Open Sans", "fontWeight": "bold", "fontSize": 14.6, "color": "#000000", "xOffset": -207, "yOffset": -27.8},
                  "encoding": {
                    "x": {"datum": "2018", "type": "ordinal", "bandPosition": 1, "scale": {"domain": ["2006","2007","2008","2009","2010","2011","2012","2013","2014","2015","2016","2017","2018"], "paddingInner": 0, "paddingOuter": 0, "round": false}, "axis": null},
                    "y": {"datum": 6000, "type": "quantitative", "scale": {"domain": [-1000, 6000], "nice": false, "zero": false}, "axis": null},
                    "text": {"field": "title", "type": "nominal"}
                  }
                },
                {
                  "data": {"values": [{"frame": "right"}]},
                  "mark": {"type": "rule", "color": "#b0b0b0", "strokeWidth": 1, "xOffset": 184.7, "yOffset": -73, "y2Offset": 28},
                  "encoding": {
                    "x": {"datum": "2018", "type": "ordinal", "bandPosition": 1, "scale": {"domain": ["2006","2007","2008","2009","2010","2011","2012","2013","2014","2015","2016","2017","2018"], "paddingInner": 0, "paddingOuter": 0, "round": false}, "axis": null},
                    "y": {"datum": 6000, "type": "quantitative", "scale": {"domain": [-1000, 6000], "nice": false, "zero": false}, "axis": null},
                    "y2": {"datum": -1000}
                  }
                },
                {
                  "data": {"values": [{"frame": "top"}]},
                  "mark": {"type": "rule", "color": "#e3e3e3", "strokeWidth": 1, "xOffset": -58, "x2Offset": 184.7, "yOffset": -73},
                  "encoding": {
                    "x": {"datum": "2006", "type": "ordinal", "bandPosition": 0, "scale": {"domain": ["2006","2007","2008","2009","2010","2011","2012","2013","2014","2015","2016","2017","2018"], "paddingInner": 0, "paddingOuter": 0, "round": false}, "axis": null},
                    "x2": {"datum": "2018", "bandPosition": 1},
                    "y": {"datum": 6000, "type": "quantitative", "scale": {"domain": [-1000, 6000], "nice": false, "zero": false}, "axis": null}
                  }
                },
                {
                  "data": {"values": [{"source": "Fonte: International Credit Insurance & Surety Association (ICISA)"}]},
                  "mark": {"type": "text", "align": "right", "baseline": "middle", "font": "Open Sans", "fontSize": 11.2, "color": "#262626", "xOffset": 191, "yOffset": 50.3},
                  "encoding": {
                    "x": {"datum": "2018", "type": "ordinal", "bandPosition": 1, "scale": {"domain": ["2006","2007","2008","2009","2010","2011","2012","2013","2014","2015","2016","2017","2018"], "paddingInner": 0, "paddingOuter": 0, "round": false}, "axis": null},
                    "y": {"datum": -1000, "type": "quantitative", "scale": {"domain": [-1000, 6000], "nice": false, "zero": false}, "axis": null},
                    "text": {"field": "source", "type": "nominal"}
                  }
                }
              ]
            },
            {
              "data": {"name": "suretyRatio"},
              "mark": {"type": "line", "strokeWidth": 2.2},
              "encoding": {
                "x": {"field": "year", "type": "ordinal", "scale": {"domain": ["2006","2007","2008","2009","2010","2011","2012","2013","2014","2015","2016","2017","2018"], "paddingInner": 0, "paddingOuter": 0, "round": false}, "axis": null},
                "y": {"field": "ratio", "type": "quantitative", "scale": {"domain": [-0.1, 0.9], "nice": false, "zero": false},
                  "axis": {"orient": "right", "values": [-0.1, 0, 0.1, 0.2, 0.3, 0.4, 0.5, 0.6, 0.7, 0.8, 0.9], "format": ".0%", "grid": false, "domain": true, "domainColor": "#d9d9d9", "ticks": true, "tickColor": "#d9d9d9", "tickSize": 3, "labelPadding": 4, "labelFont": "Open Sans", "labelFontSize": 8.5, "labelColor": "#595959", "title": null}},
                "stroke": {"field": "series", "type": "nominal", "scale": {"domain": ["Claims Ratio in %"], "range": ["#ed7d31"]},
                  "legend": {"orient": "none", "legendX": 539.7, "legendY": 765, "title": null, "padding": 0, "symbolType": "stroke", "symbolSize": 400, "symbolStrokeWidth": 2, "labelFont": "Open Sans", "labelFontSize": 7, "labelColor": "#404040", "labelOffset": 2}}
              }
            }
          ]
        }
      ]
    }
  ]
}
